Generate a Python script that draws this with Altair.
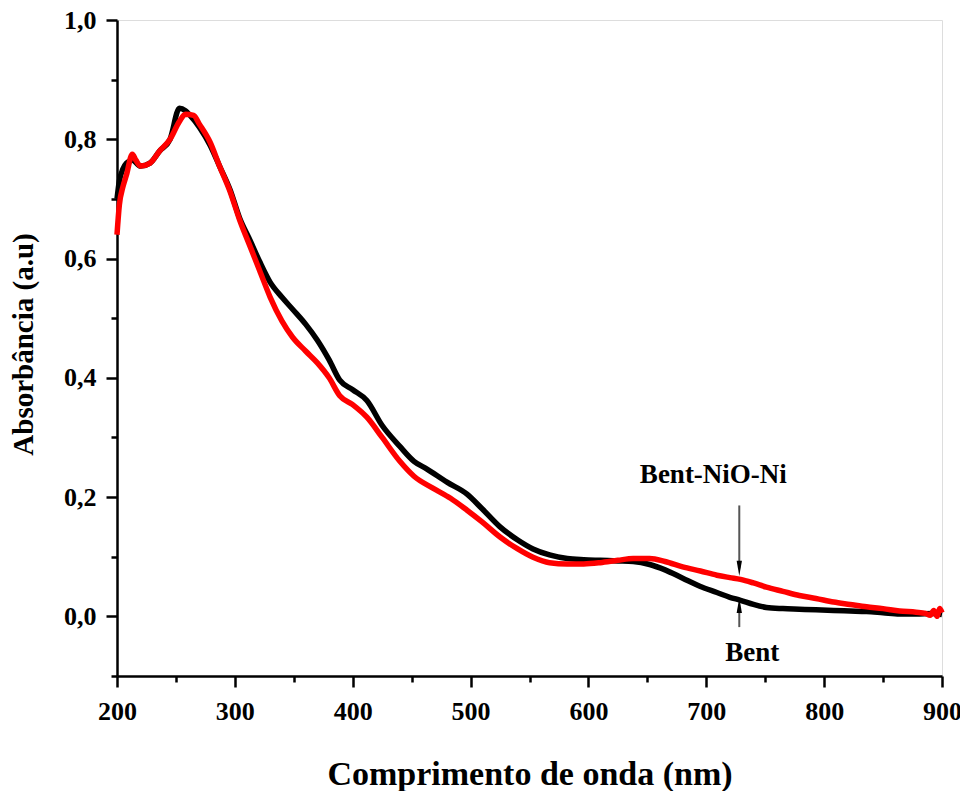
import altair as alt
import pandas as pd

# Bent (black)
wl_bent = [200, 202, 205, 208, 213, 220, 228, 236, 245, 253, 258, 262, 270, 279, 287, 296, 304, 313,
           321, 330, 340, 349, 360, 370, 380, 389, 400, 412, 425, 440, 452, 463, 480, 497, 510, 525,
           540, 553, 567, 582, 596, 610, 625, 638, 652, 665, 680, 695, 709, 720, 729, 740, 751, 765,
           779, 793, 808, 822, 836, 850, 864, 878, 892, 900]
abs_bent = [0.70, 0.73, 0.75, 0.76, 0.765, 0.755, 0.76, 0.78, 0.80, 0.852, 0.848, 0.84, 0.82, 0.79,
            0.755, 0.715, 0.668, 0.63, 0.595, 0.56, 0.535, 0.515, 0.49, 0.463, 0.43, 0.396, 0.38,
            0.362, 0.32, 0.285, 0.26, 0.247, 0.225, 0.205, 0.18, 0.15, 0.128, 0.113, 0.103, 0.097,
            0.095, 0.094, 0.093, 0.092, 0.087, 0.078, 0.064, 0.05, 0.04, 0.032, 0.027, 0.02, 0.015,
            0.013, 0.012, 0.011, 0.01, 0.009, 0.008, 0.006, 0.004, 0.004, 0.005, 0.003]

# Bent-NiO-Ni (red)
wl_nio = [200, 202, 205, 208, 213, 216, 220, 228, 236, 245, 253, 258, 265, 270, 279, 287, 296, 304,
          313, 321, 330, 340, 349, 360, 370, 380, 389, 400, 412, 425, 440, 452, 468, 483, 497, 510,
          525, 540, 553, 567, 582, 596, 610, 625, 638, 652, 665, 680, 695, 709, 720, 729, 740, 751,
          765, 779, 793, 808, 822, 836, 850, 864, 878, 886, 890, 893, 896, 898, 900]
abs_nio = [0.64, 0.69, 0.72, 0.74, 0.775, 0.765, 0.755, 0.76, 0.78, 0.80, 0.83, 0.842, 0.84, 0.825,
           0.795, 0.755, 0.712, 0.665, 0.62, 0.58, 0.535, 0.495, 0.468, 0.445, 0.425, 0.40, 0.37,
           0.355, 0.334, 0.30, 0.26, 0.235, 0.215, 0.198, 0.178, 0.158, 0.133, 0.113, 0.099, 0.09,
           0.088, 0.088, 0.09, 0.094, 0.097, 0.097, 0.092, 0.083, 0.076, 0.069, 0.065, 0.062,
           0.056, 0.049, 0.042, 0.035, 0.03, 0.024, 0.02, 0.016, 0.013, 0.009, 0.007, 0.005,
           0.002, 0.01, 0.0, 0.013, 0.006]

# annotations
label_text = ["Bent-NiO-Ni", "Bent"]
label_x = [706, 739]
label_y = [0.237, -0.062]

arrow_x = [728, 728]
arrow_from = [0.186, -0.018]
arrow_head = [0.0805, 0.0185]
arrow_dir = ["down", "up"]

x_ticks = list(range(200, 901, 50))
y_ticks = [-0.1, 0.0, 0.1, 0.2, 0.3, 0.4, 0.5, 0.6, 0.7, 0.8, 0.9, 1.0]

df = pd.concat([
    pd.DataFrame({"wl": wl_bent, "a": abs_bent, "s": "Bent", "o": 0}),
    pd.DataFrame({"wl": wl_nio, "a": abs_nio, "s": "Bent-NiO-Ni", "o": 1}),
])
lab = pd.DataFrame({"t": label_text, "x": label_x, "y": label_y})
arr = pd.DataFrame({"x": arrow_x, "y": arrow_from, "y2": arrow_head, "d": arrow_dir})

FONT = "Liberation Serif"

xscale = alt.Scale(domain=[200, 900], nice=False, zero=False)
yscale = alt.Scale(domain=[-0.1, 1.0], nice=False, zero=False)

xaxis = alt.Axis(
    values=x_ticks,
    labelExpr="datum.value % 100 == 0 ? datum.label : ''",
    tickSize={"condition": {"test": "datum.value % 100 == 0", "value": 11}, "value": 6},
    title="Comprimento de onda (nm)",
    titleFont=FONT, titleFontSize=34, titleFontWeight="bold", titleColor="black",
    titleY=108, titleBaseline="alphabetic",
    labelFont=FONT, labelFontSize=26, labelFontWeight="bold", labelColor="black",
    labelPadding=11, labelFlush=False, labelOverlap=False,
    domainColor="black", domainWidth=2.5, tickColor="black", tickWidth=2.5,
    grid=False,
)
yaxis = alt.Axis(
    values=y_ticks,
    labelExpr="abs(round(datum.value*10)) % 2 == 0 ? replace(format(datum.value, '.1f'), '.', ',') : ''",
    tickSize={"condition": {"test": "abs(round(datum.value*10)) % 2 == 0", "value": 11}, "value": 6},
    title="Absorbância  (a.u)",
    titleFont=FONT, titleFontSize=29, titleFontWeight="bold", titleColor="black",
    titleX=-85, titleY=324, titleBaseline="alphabetic", titleAngle=-90, titleAlign="center",
    labelFont=FONT, labelFontSize=26, labelFontWeight="bold", labelColor="black",
    labelPadding=10, labelFlush=False, labelOverlap=False,
    domainColor="black", domainWidth=2.5, tickColor="black", tickWidth=2.5,
    grid=False,
)

lines = alt.Chart(df).mark_line(strokeWidth=5.5, strokeJoin="round", interpolate="monotone").encode(
    x=alt.X("wl:Q", scale=xscale, axis=xaxis),
    y=alt.Y("a:Q", scale=yscale, axis=yaxis),
    color=alt.Color("s:N", scale=alt.Scale(domain=["Bent", "Bent-NiO-Ni"], range=["#000000", "#ff0000"]), legend=None),
    detail="s:N",
    order="o:Q",
)

texts = alt.Chart(lab).mark_text(font=FONT, fontSize=27, fontWeight="bold", color="black",
                                 baseline="middle", align="center").encode(
    x=alt.X("x:Q", scale=xscale), y=alt.Y("y:Q", scale=yscale), text="t:N")

rules = alt.Chart(arr).mark_rule(color="#555555", strokeWidth=2).encode(
    x=alt.X("x:Q", scale=xscale), y=alt.Y("y:Q", scale=yscale), y2="y2:Q")

heads = alt.Chart(arr).mark_point(filled=True, color="black", opacity=1, size=230, strokeWidth=0).encode(
    x=alt.X("x:Q", scale=xscale), y=alt.Y("y2:Q", scale=yscale),
    shape=alt.Shape("d:N", scale=alt.Scale(domain=["down", "up"],
                                           range=["M-0.35,-1L0.35,-1L0,1Z", "M-0.35,1L0.35,1L0,-1Z"]),
                    legend=None),
)

chart = alt.layer(lines, rules, heads, texts).properties(
    width=825, height=656,
    autosize=alt.AutoSizeParams(type="none"),
    padding={"left": 109, "top": 12, "right": 18, "bottom": 115},
).configure_view(stroke="black", strokeWidth=2.5).configure(background="white")

chart.save("out.html", embed_options={"renderer": "svg", "actions": False})
